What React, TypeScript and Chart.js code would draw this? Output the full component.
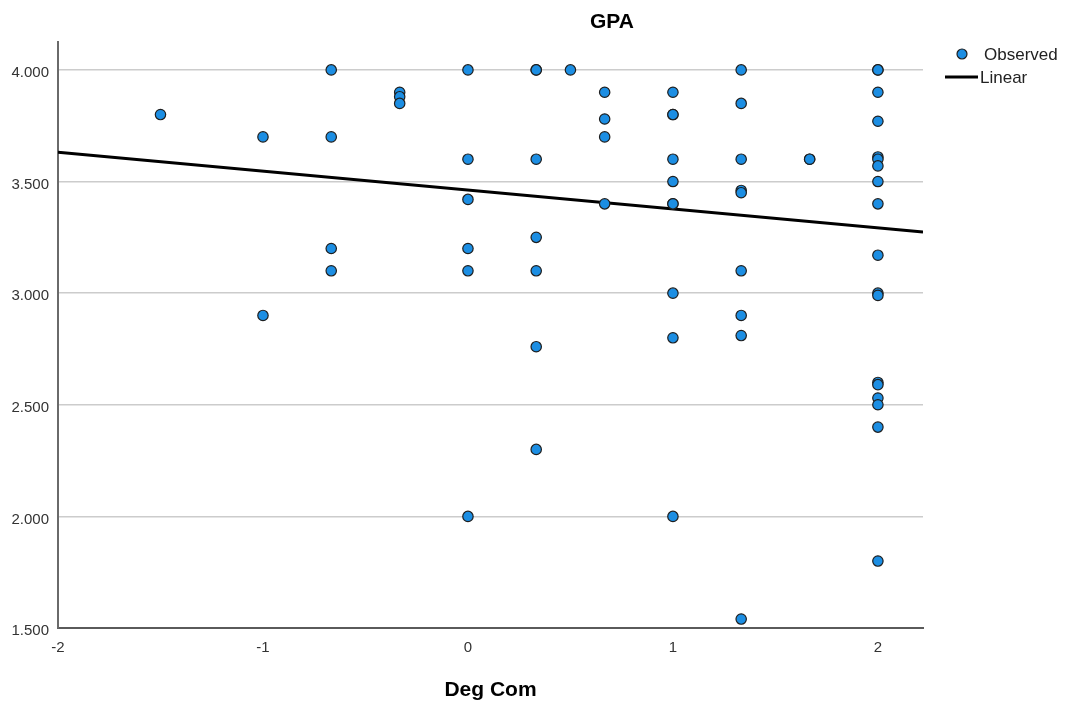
import React, { useEffect, useRef } from "react";
import { Chart, registerables } from "chart.js";

Chart.register(...registerables);

// Observed cases: Deg Com (x) against GPA (y)
const degCom: number[] = [
  -1.5,
  -1, -1,
  -0.667, -0.667, -0.667, -0.667,
  -0.333, -0.333, -0.333,
  0, 0, 0, 0, 0, 0,
  0.333, 0.333, 0.333, 0.333, 0.333, 0.333, 0.333,
  0.5,
  0.667, 0.667, 0.667, 0.667,
  1, 1, 1, 1, 1, 1, 1, 1, 1, 1,
  1.333, 1.333, 1.333, 1.333, 1.333, 1.333, 1.333, 1.333, 1.333,
  1.667, 1.667,
  2, 2, 2, 2, 2, 2, 2, 2, 2, 2, 2, 2, 2, 2, 2, 2, 2, 2,
];

const gpa: number[] = [
  3.8,
  3.7, 2.9,
  4.0, 3.7, 3.2, 3.1,
  3.9, 3.88, 3.85,
  4.0, 3.6, 3.42, 3.2, 3.1, 2.0,
  4.0, 4.0, 3.6, 3.25, 3.1, 2.76, 2.3,
  4.0,
  3.9, 3.78, 3.7, 3.4,
  3.9, 3.8, 3.8, 3.6, 3.5, 3.4, 3.4, 3.0, 2.8, 2.0,
  4.0, 3.85, 3.6, 3.46, 3.45, 3.1, 2.9, 2.81, 1.54,
  3.6, 3.6,
  4.0, 4.0, 3.9, 3.77, 3.61, 3.6, 3.57, 3.5, 3.4, 3.17, 3.0, 2.99, 2.6, 2.59, 2.53, 2.5, 2.4, 1.8,
];

// Linear fit: GPA = intercept + slope * Deg Com
const fitIntercept = 3.462;
const fitSlope = -0.0848;

// Axis ranges and tick labels
const xMin = -2;
const xMax = 2.22;
const yMin = 1.5;
const yMax = 4.125;
const xTickValues: number[] = [-2, -1, 0, 1, 2];
const yTickValues: number[] = [1.5, 2.0, 2.5, 3.0, 3.5, 4.0];

const chartTitle = "GPA";
const xAxisTitle = "Deg Com";
const legendLabels = ["Observed", "Linear"];

const FONT = "'Liberation Sans', Arial, Helvetica, sans-serif";
const POINT_FILL = "#1c8ee3";
const POINT_EDGE = "#1e1e1e";

const decorations = {
  id: "decorations",
  beforeDraw(chart: any) {
    const ctx = chart.ctx;
    ctx.save();
    ctx.fillStyle = "#ffffff";
    ctx.fillRect(0, 0, chart.width, chart.height);
    ctx.restore();
  },
  afterDraw(chart: any) {
    const ctx = chart.ctx;
    const area = chart.chartArea;
    ctx.save();

    // chart title
    ctx.fillStyle = "#000000";
    ctx.font = `bold 21px ${FONT}`;
    ctx.textAlign = "center";
    ctx.textBaseline = "middle";
    ctx.fillText(chartTitle, 612, 22);

    // x-axis title
    ctx.fillText(xAxisTitle, (area.left + area.right) / 2, 690);

    // legend
    ctx.font = `17px ${FONT}`;
    ctx.textAlign = "left";
    ctx.beginPath();
    ctx.arc(962, 54, 5, 0, Math.PI * 2);
    ctx.fillStyle = POINT_FILL;
    ctx.fill();
    ctx.lineWidth = 1.2;
    ctx.strokeStyle = POINT_EDGE;
    ctx.stroke();
    ctx.fillStyle = "#222222";
    ctx.fillText(legendLabels[0], 984, 55);

    ctx.beginPath();
    ctx.moveTo(945, 77);
    ctx.lineTo(978, 77);
    ctx.lineWidth = 3;
    ctx.strokeStyle = "#000000";
    ctx.stroke();
    ctx.fillText(legendLabels[1], 980, 78);

    ctx.restore();
  },
};

export default function App() {
  const canvasRef = useRef<HTMLCanvasElement | null>(null);

  useEffect(() => {
    if (!canvasRef.current) return;
    const points = degCom.map((x, i) => ({ x, y: gpa[i] }));
    const fitLine = [xMin, xMax].map((x) => ({ x, y: fitIntercept + fitSlope * x }));

    const chart = new Chart(canvasRef.current, {
      type: "scatter",
      data: {
        datasets: [
          {
            label: legendLabels[0],
            data: points,
            backgroundColor: POINT_FILL,
            borderColor: POINT_EDGE,
            borderWidth: 1.2,
            pointRadius: 5.2,
            showLine: false,
            order: 1,
          },
          {
            label: legendLabels[1],
            type: "line",
            data: fitLine,
            borderColor: "#000000",
            borderWidth: 3,
            pointRadius: 0,
            fill: false,
            tension: 0,
            order: 2,
          } as any,
        ],
      },
      options: {
        animation: false,
        responsive: false,
        devicePixelRatio: 1,
        layout: { padding: { top: 42, right: 143, left: 0, bottom: 0 } },
        plugins: {
          legend: { display: false },
          tooltip: { enabled: false },
          title: { display: false },
        },
        scales: {
          x: {
            type: "linear",
            min: xMin,
            max: xMax,
            grid: { display: false, drawTicks: false },
            border: { display: true, color: "#5a5a5a", width: 2 },
            ticks: {
              color: "#333333",
              font: { family: FONT, size: 15 },
              padding: 11,
              maxRotation: 0,
              callback: (v: any) => String(v),
            },
            afterBuildTicks: (scale: any) => {
              scale.ticks = xTickValues.map((value) => ({ value }));
            },
            afterFit: (scale: any) => {
              scale.height = 76;
            },
          },
          y: {
            type: "linear",
            min: yMin,
            max: yMax,
            grid: { color: "#cccccc", lineWidth: 1.5, drawTicks: false },
            border: { display: true, color: "#6a6a6a", width: 2 },
            ticks: {
              color: "#333333",
              font: { family: FONT, size: 15 },
              padding: 9,
              labelOffset: 3,
              callback: (v: any) => Number(v).toFixed(3),
            },
            afterBuildTicks: (scale: any) => {
              scale.ticks = yTickValues.map((value) => ({ value }));
            },
            afterFit: (scale: any) => {
              scale.width = 58;
            },
          },
        },
      },
      plugins: [decorations],
    });

    return () => chart.destroy();
  }, []);

  return (
    <div style={{ position: "fixed", left: 0, top: 0, width: 1066, height: 704, background: "#fff" }}>
      <canvas ref={canvasRef} width={1066} height={704} />
    </div>
  );
}
